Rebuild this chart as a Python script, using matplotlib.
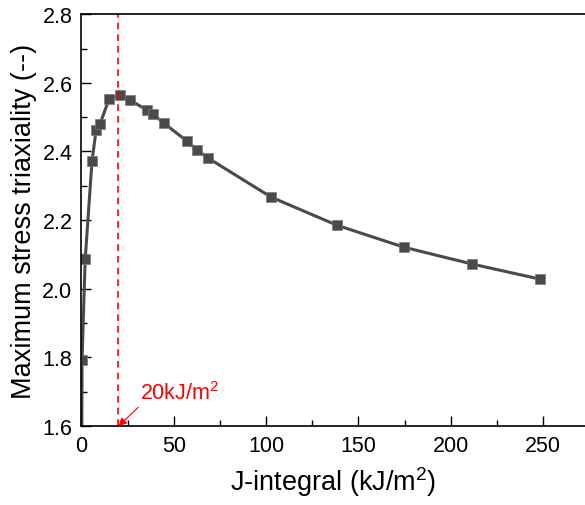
import matplotlib.pyplot as plt
from matplotlib.ticker import MultipleLocator, AutoMinorLocator

plt.rcParams["font.family"] = ["Liberation Sans", "DejaVu Sans"]
plt.rcParams["mathtext.fontset"] = "custom"
plt.rcParams["mathtext.rm"] = "Liberation Sans"

# data
j_integral = [0.1, 0.3, 2.0, 5.7, 7.9, 10.0, 14.9, 20.9, 26.3, 35.5, 38.7, 44.7,
              57.2, 62.6, 68.5, 102.7, 138.4, 174.7, 211.6, 248.4]
triaxiality = [1.45, 1.792, 2.086, 2.372, 2.462, 2.480, 2.552, 2.564, 2.550, 2.520,
               2.509, 2.482, 2.430, 2.404, 2.381, 2.267, 2.185, 2.121, 2.072, 2.028]
j_crit = 20

fig = plt.figure(figsize=(5.85, 5.06), dpi=100)
ax = fig.add_axes([0.1393, 0.156, 0.8607, 0.814])

ax.plot(j_integral, triaxiality, color="#4a4a4a", linewidth=2.2,
        marker="s", markersize=6.6, markerfacecolor="#4a4a4a",
        markeredgecolor="#7a7a7a", markeredgewidth=0.5)
ax.axvline(j_crit, color="red", linestyle=(0, (4, 3)), linewidth=1.2)

ax.annotate("20kJ/m$^2$", xy=(j_crit, 1.6), xytext=(31.5, 1.663),
            color="red", fontsize=15.5, ha="left", va="bottom",
            arrowprops=dict(arrowstyle="-|>", color="red", lw=0.8,
                            mutation_scale=12, relpos=(0.05, 0.1),
                            shrinkA=0, shrinkB=0))

ax.set_xlim(0, 272.7)
ax.set_ylim(1.6, 2.8)
ax.xaxis.set_major_locator(MultipleLocator(50))
ax.yaxis.set_major_locator(MultipleLocator(0.2))
ax.xaxis.set_minor_locator(AutoMinorLocator(2))
ax.yaxis.set_minor_locator(AutoMinorLocator(2))
ax.tick_params(which="both", direction="in", labelsize=15.5, width=1)
ax.tick_params(which="major", length=7, pad=6.5)
ax.tick_params(which="minor", length=4)
for s in ax.spines.values():
    s.set_linewidth(1.2)
ax.spines["right"].set_visible(False)

ax.set_xlabel("J-integral (kJ/m$^2$)", fontsize=19.5, labelpad=6)
ax.set_ylabel("Maximum stress triaxiality (--)", fontsize=19.5, labelpad=4)

fig.savefig("out.png", dpi=100)
